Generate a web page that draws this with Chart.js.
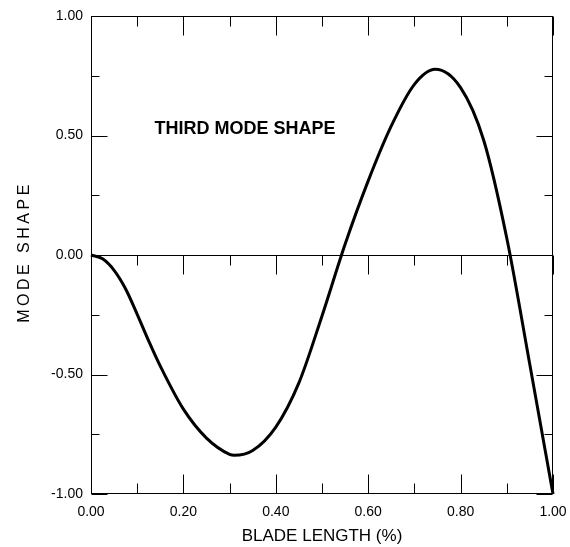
<!DOCTYPE html>
<html><head><meta charset="utf-8">
<script src="https://cdn.jsdelivr.net/npm/chart.js@4/dist/chart.umd.min.js"></script>
<style>html,body{margin:0;padding:0;background:#fff}#wrap{width:570px;height:547px;position:relative}</style>
</head><body><div id="wrap"><canvas id="c" width="570" height="547"></canvas></div>
<script>
// ---- data ----
const bladeLength = [0, 0.025, 0.05, 0.075, 0.10, 0.125, 0.15, 0.20, 0.25, 0.30, 0.31, 0.35, 0.40, 0.45, 0.50, 0.55, 0.60, 0.65, 0.70, 0.745, 0.80, 0.85, 0.90, 0.95, 1.00];
const modeShape   = [0, -0.016, -0.064, -0.142, -0.248, -0.36, -0.465, -0.645, -0.766, -0.834, -0.838, -0.818, -0.72, -0.535, -0.255, 0.045, 0.31, 0.54, 0.714, 0.777, 0.70, 0.48, 0.07, -0.46, -1.0];
const xMajorTicks = [0, 0.2, 0.4, 0.6, 0.8, 1.0];
const xMinorTicks = [0.1, 0.3, 0.5, 0.7, 0.9];
const yMajorTicks = [-1, -0.5, 0, 0.5, 1];
const yMinorTicks = [-0.75, -0.25, 0.25, 0.75];
const chartTitle = 'THIRD MODE SHAPE';
const xTitle = 'BLADE LENGTH (%)';
const yTitle = 'MODE SHAPE';

const FONT = '"Liberation Sans", Arial, Helvetica, sans-serif';

const framePlugin = {
  id: 'frame',
  afterDatasetsDraw(chart) {
    const { ctx, chartArea: a, scales: { x, y } } = chart;
    ctx.save();
    ctx.strokeStyle = '#000';
    ctx.lineWidth = 1;
    const L = Math.round(a.left) + 0.5, R = Math.round(a.right) - 0.5;
    const T = Math.round(a.top) + 0.5, B = Math.round(a.bottom) - 0.5;
    ctx.strokeRect(L, T, R - L, B - T);
    const z = Math.round(y.getPixelForValue(0)) + 0.5;
    ctx.beginPath();
    ctx.moveTo(L, z); ctx.lineTo(R, z);
    const vt = (v, len) => {
      const px = Math.round(x.getPixelForValue(v)) + 0.5;
      ctx.moveTo(px, B); ctx.lineTo(px, B - len);      // bottom, inward
      ctx.moveTo(px, T); ctx.lineTo(px, T + len);      // top, inward
      ctx.moveTo(px, z); ctx.lineTo(px, z + len);      // zero line, downward
    };
    xMajorTicks.forEach(v => vt(v, 19));
    xMinorTicks.forEach(v => vt(v, 10));
    const ht = (v, len) => {
      const py = Math.round(y.getPixelForValue(v)) + 0.5;
      ctx.moveTo(L, py); ctx.lineTo(L + len, py);
      ctx.moveTo(R, py); ctx.lineTo(R - len, py);
    };
    yMajorTicks.forEach(v => ht(v, 16));
    yMinorTicks.forEach(v => ht(v, 8));
    ctx.stroke();

    // chart annotation title
    ctx.fillStyle = '#000';
    ctx.font = 'bold 18px ' + FONT;
    ctx.textAlign = 'center';
    ctx.textBaseline = 'middle';
    ctx.fillText(chartTitle, 245, 129);

    // rotated y title with letter spacing
    ctx.save();
    ctx.translate(25, 252);
    ctx.rotate(-Math.PI / 2);
    ctx.font = '16px ' + FONT;
    ctx.letterSpacing = '3.5px';
    ctx.textAlign = 'center';
    ctx.textBaseline = 'middle';
    ctx.fillText(yTitle, 0, 0);
    ctx.restore();
    ctx.restore();
  }
};

new Chart(document.getElementById('c'), {
  type: 'scatter',
  data: {
    datasets: [{
      data: bladeLength.map((v, i) => ({ x: v, y: modeShape[i] })),
      showLine: true,
      borderColor: '#000',
      borderWidth: 3,
      pointRadius: 0,
      cubicInterpolationMode: 'monotone',
      fill: false,
      clip: false
    }]
  },
  options: {
    responsive: false,
    animation: false,
    devicePixelRatio: 1,
    layout: { padding: { left: 0, right: 17, top: 16, bottom: 0 } },
    plugins: { legend: { display: false }, tooltip: { enabled: false } },
    scales: {
      x: {
        type: 'linear', min: 0, max: 1,
        grid: { display: false, drawTicks: false },
        border: { display: false },
        afterBuildTicks: s => { s.ticks = xMajorTicks.map(v => ({ value: v })); },
        afterFit: s => { s.height = 53; s.paddingLeft = 0; s.paddingRight = 0; },
        ticks: { color: '#000', font: { family: FONT, size: 14 }, padding: 10, maxRotation: 0,
                 callback: v => Number(v).toFixed(2) },
        title: { display: true, text: xTitle, color: '#000', font: { family: FONT, size: 17 }, padding: { top: 0, bottom: 0 } }
      },
      y: {
        type: 'linear', min: -1, max: 1,
        grid: { display: false, drawTicks: false },
        border: { display: false },
        afterBuildTicks: s => { s.ticks = yMajorTicks.map(v => ({ value: v })); },
        afterFit: s => { s.width = 91; s.paddingTop = 0; s.paddingBottom = 0; },
        ticks: { color: '#000', font: { family: FONT, size: 14 }, padding: 8,
                 callback: v => Number(v).toFixed(2) }
      }
    }
  },
  plugins: [framePlugin]
});
</script></body></html>
